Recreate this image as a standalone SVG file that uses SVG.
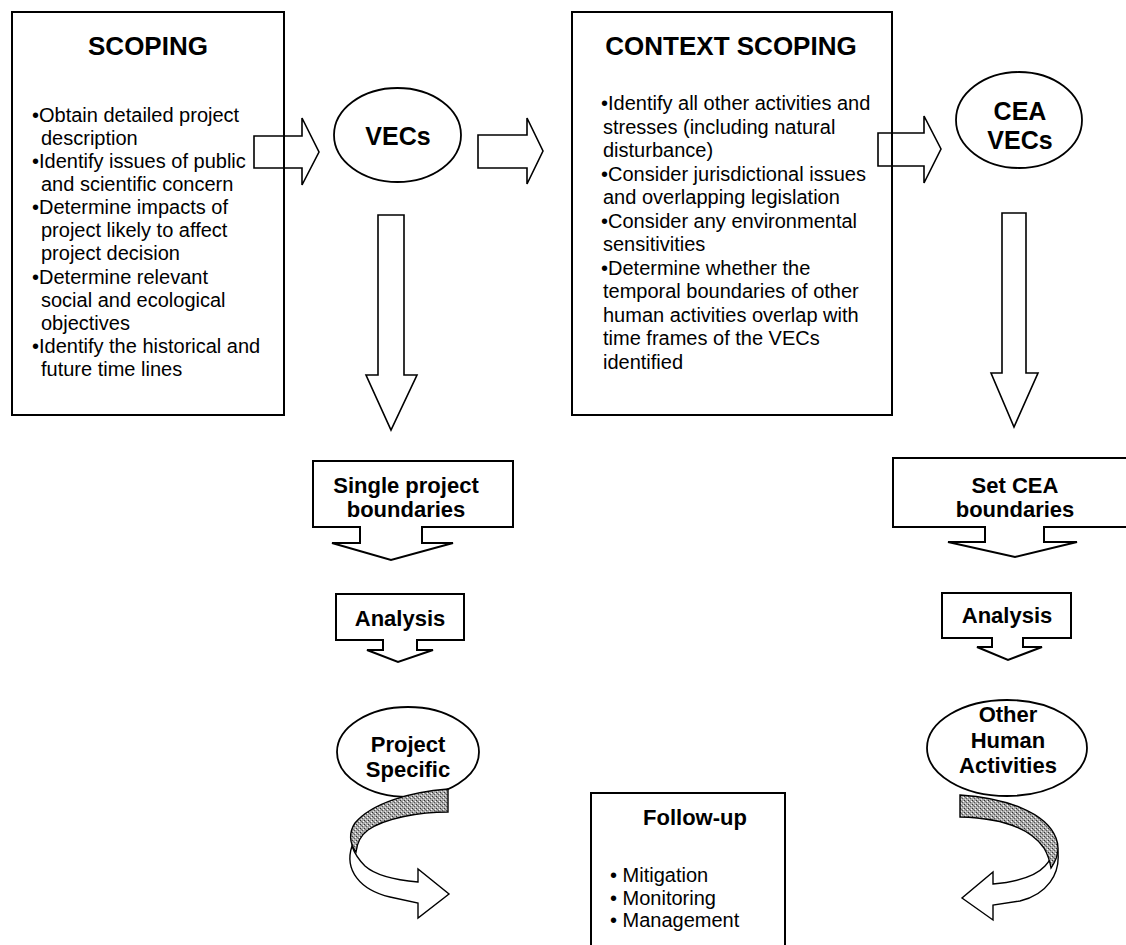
<svg xmlns="http://www.w3.org/2000/svg" width="1126" height="945" viewBox="0 0 1126 945">
<style>
.box{fill:#fff;stroke:#000;stroke-width:2}
.ell{fill:#fff;stroke:#000;stroke-width:1.8}
.arr{fill:none;stroke:#000;stroke-width:1.6;stroke-linejoin:miter}
.rib{stroke:#000;stroke-width:1.4}
.t{font-family:"Liberation Sans",Arial,sans-serif;fill:#000}
.title{font-size:26px;font-weight:bold;text-anchor:middle}
.lbl{font-size:22px;font-weight:bold;text-anchor:middle}
.big{font-size:25px;font-weight:bold;text-anchor:middle}
.body{font-size:20px}
</style>
<defs>
<pattern id="stip" width="4" height="4" patternUnits="userSpaceOnUse">
<rect width="4" height="4" fill="#a8a8a8"/>
<rect x="0" y="0" width="1" height="1" fill="#333"/>
<rect x="2" y="2" width="1" height="1" fill="#555"/>
<rect x="3" y="1" width="1" height="1" fill="#fff"/>
<rect x="1" y="3" width="1" height="1" fill="#e6e6e6"/>
<rect x="1" y="1" width="1" height="1" fill="#777"/>
</pattern>
</defs>
<rect width="1126" height="945" fill="#fff"/>

<g id="scoping">
<rect class="box" x="12" y="12" width="272" height="403"/>
<text class="t title" x="148" y="55">SCOPING</text>
<g class="t body">
<text x="32" y="122">•Obtain detailed project</text>
<text x="41" y="145">description</text>
<text x="32" y="168">•Identify issues of public</text>
<text x="41" y="191">and scientific concern</text>
<text x="32" y="214">•Determine impacts of</text>
<text x="41" y="237">project likely to affect</text>
<text x="41" y="260">project decision</text>
<text x="32" y="284">•Determine relevant</text>
<text x="41" y="307">social and ecological</text>
<text x="41" y="330">objectives</text>
<text x="32" y="353">•Identify the historical and</text>
<text x="41" y="376">future time lines</text>
</g>
</g>

<g id="context-scoping">
<rect class="box" x="572" y="12" width="320" height="403"/>
<text class="t title" x="731" y="55">CONTEXT SCOPING</text>
<g class="t body">
<text x="601" y="110">•Identify all other activities and</text>
<text x="603" y="133.5">stresses (including natural</text>
<text x="603" y="157">disturbance)</text>
<text x="601" y="180.5">•Consider jurisdictional issues</text>
<text x="603" y="204">and overlapping legislation</text>
<text x="601" y="227.5">•Consider any environmental</text>
<text x="603" y="251">sensitivities</text>
<text x="601" y="274.5">•Determine whether the</text>
<text x="603" y="298">temporal boundaries of other</text>
<text x="603" y="321.5">human activities overlap with</text>
<text x="603" y="345">time frames of the VECs</text>
<text x="603" y="368.5">identified</text>
</g>
</g>

<g id="vecs">
<ellipse class="ell" cx="397.5" cy="135" rx="63.5" ry="47"/>
<text class="t big" x="398" y="145">VECs</text>
</g>

<g id="cea-vecs">
<ellipse class="ell" cx="1019" cy="120" rx="63" ry="48"/>
<text class="t big" x="1020" y="120">CEA</text>
<text class="t big" x="1020" y="149">VECs</text>
</g>

<g id="single-project-boundaries">
<path class="box" d="M313,461 L513,461 L513,527 L422,527 L422,543 L453,543 L391,560 L332,543 L360,543 L360,527 L313,527 Z"/>
<text class="t lbl" x="406" y="493">Single project</text>
<text class="t lbl" x="406" y="517">boundaries</text>
</g>

<g id="analysis-left">
<path class="box" d="M336,594 L464,594 L464,640 L417,640 L417,650 L433,650 L398,662 L367,650 L383,650 L383,640 L336,640 Z"/>
<text class="t lbl" x="400" y="626">Analysis</text>
</g>

<g id="set-cea-boundaries">
<path class="box" d="M1130,458 L893,458 L893,527 L985,527 L985,542 L948,542 L1015,557 L1077,542 L1044,542 L1044,527 L1130,527"/>
<text class="t lbl" x="1015" y="493">Set CEA</text>
<text class="t lbl" x="1015" y="517">boundaries</text>
</g>

<g id="analysis-right">
<path class="box" d="M942,593 L1071,593 L1071,638 L1023,638 L1023,647 L1042,647 L1008,660 L977,647 L992,647 L992,638 L942,638 Z"/>
<text class="t lbl" x="1007" y="623">Analysis</text>
</g>

<g id="project-specific">
<ellipse class="ell" cx="408" cy="752" rx="71" ry="45"/>
<text class="t lbl" x="408" y="752">Project</text>
<text class="t lbl" x="408" y="777">Specific</text>
</g>

<g id="other-human-activities">
<ellipse class="ell" cx="1007" cy="748" rx="80" ry="48"/>
<text class="t lbl" x="1008" y="722">Other</text>
<text class="t lbl" x="1008" y="748">Human</text>
<text class="t lbl" x="1008" y="773">Activities</text>
</g>

<g id="follow-up">
<rect class="box" x="591" y="793" width="194" height="160"/>
<text class="t lbl" x="695" y="825">Follow-up</text>
<g class="t body">
<text x="610" y="882">• Mitigation</text>
<text x="610" y="905">• Monitoring</text>
<text x="610" y="927">• Management</text>
</g>
</g>

<g id="connectors">
<path class="arr" d="M254,136 L302,136 L302,118 L319,152 L302,185 L302,168 L254,168 Z"/>
<path class="arr" d="M478,135 L527,135 L527,118 L543,151 L527,184 L527,168 L478,168 Z"/>
<path class="arr" d="M878,133 L924,133 L924,116 L941,149 L924,183 L924,166 L878,166 Z"/>
<path class="arr" d="M378,215 L404,215 L404,375 L417,375 L391,430 L366,375 L378,375 Z"/>
<path class="arr" d="M1002,213 L1026,213 L1026,373 L1038,373 L1014,427 L991,373 L1002,373 Z"/>
<g id="curve-left">
<path class="rib" fill="#fff" d="M352,846 C344,870 360,890 390,897 L418,903 L418,918 L449,894 L418,869 L418,882 C395,880 375,875 365,866 C360,861 355,855 352,846 Z"/>
<path class="rib" fill="url(#stip)" d="M448,789 L448,812 C420,812 385,818 368,830 C360,836 357,843 356,852 C349,843 349,832 355,823 C372,803 410,792 448,789 Z"/>
</g>
<g id="curve-right">
<path class="rib" fill="#fff" d="M1057,846 C1063,875 1045,895 1020,901 L993,905 L993,920 L962,898 L993,872 L993,884 C1015,882 1035,877 1045,866 C1050,861 1053,855 1057,846 Z"/>
<path class="rib" fill="url(#stip)" d="M960,795 L960,817 C1000,818 1030,828 1044,848 C1048,855 1050,862 1051,868 C1058,858 1060,848 1056,838 C1046,812 1005,798 960,795 Z"/>
</g>
</g>
</svg>
